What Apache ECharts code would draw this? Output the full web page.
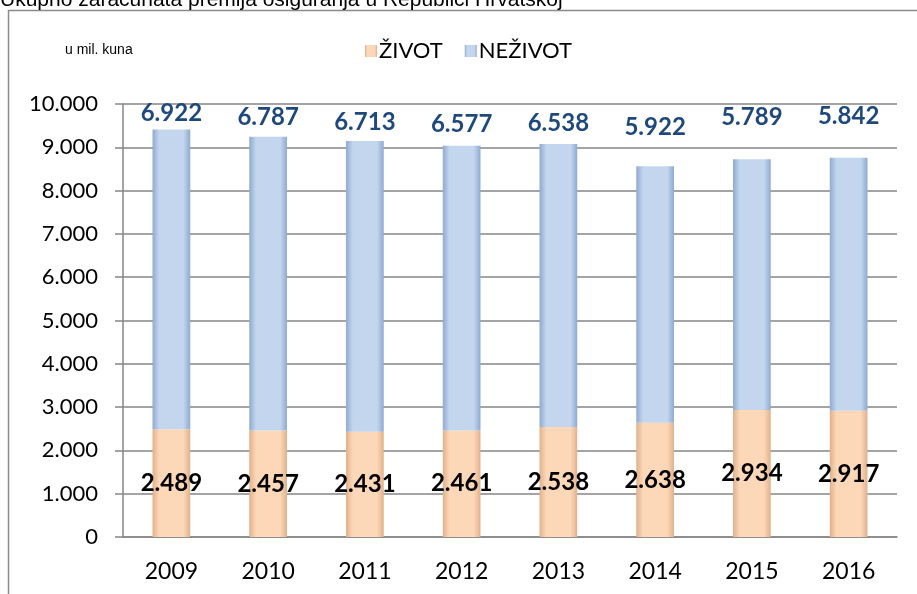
<!DOCTYPE html>
<html>
<head>
<meta charset="utf-8">
<script src="https://cdn.jsdelivr.net/npm/echarts@6/dist/echarts.min.js"></script>
<style>
  html, body { margin: 0; padding: 0; background: #fff; }
  #chart { width: 917px; height: 594px; }
</style>
</head>
<body>
<div id="chart"></div>
<script>
// data
const years = ['2009', '2010', '2011', '2012', '2013', '2014', '2015', '2016'];
const zivot = [2489, 2457, 2431, 2461, 2538, 2638, 2934, 2917];
const nezivot = [6922, 6787, 6713, 6577, 6538, 5922, 5789, 5842];

// label distances above the stacks (hand placed in the original)
const topLabelGap = [4, 7, 7, 9, 9, 27, 30, 29];

const fmt = n => String(n).replace(/\B(?=(\d{3})+(?!\d))/g, '.');

const barGradient = (edge, mid) => ({
    type: 'linear', x: 0, y: 0, x2: 1, y2: 0,
    colorStops: [
        { offset: 0, color: edge },
        { offset: 0.18, color: mid },
        { offset: 0.82, color: mid },
        { offset: 1, color: edge },
    ],
});

const chart = echarts.init(document.getElementById('chart'));
chart.setOption({
    animation: false,
    textStyle: { fontFamily: 'Lato' },
    graphic: [
        {
            type: 'rect',
            shape: { x: 8.5, y: 10.5, width: 1000, height: 700 },
            style: { fill: 'none', stroke: '#8a8a8a', lineWidth: 1.5 },
        },
        {
            type: 'text', left: 0, top: -10,
            style: {
                text: 'Ukupno zaračunata premija osiguranja u Republici Hrvatskoj',
                font: '21px "Liberation Sans", Arial', fill: '#000',
            },
        },
        {
            type: 'text', left: 65, top: 43,
            style: { text: 'u mil. kuna', font: '14px "Liberation Sans", Arial', fill: '#000' },
        },
    ],
    legend: {
        left: 360, top: 35,
        icon: 'rect', itemWidth: 12, itemHeight: 12, itemGap: 22,
        textStyle: { fontSize: 22, fontFamily: 'Lato', color: '#000', padding: [0, 0, 0, -3] },
        data: ['ŽIVOT', 'NEŽIVOT'],
    },
    grid: { left: 123, right: 20, top: 104, bottom: 57 },
    xAxis: {
        type: 'category',
        data: years,
        axisLine: { lineStyle: { color: '#868686', width: 1.5 } },
        axisTick: { length: 8, lineStyle: { color: '#868686', width: 1.5 } },
        axisLabel: { color: '#000', fontSize: 23, margin: 23 },
    },
    yAxis: {
        type: 'value',
        min: 0, max: 10000, interval: 1000,
        axisLine: { show: true, lineStyle: { color: '#868686', width: 1.5 } },
        axisTick: { show: true, length: 8, lineStyle: { color: '#868686', width: 1.5 } },
        splitLine: { lineStyle: { color: '#868686', width: 1.5 } },
        axisLabel: { color: '#000', fontSize: 22, margin: 25, formatter: v => fmt(v) },
    },
    series: [
        {
            name: 'ŽIVOT',
            type: 'bar',
            stack: 'total',
            barWidth: '39%',
            data: zivot,
            itemStyle: { color: barGradient('#e0b18b', '#fcd7b8') },
            label: {
                show: true, position: 'inside',
                fontSize: 24, fontWeight: 'bold', color: '#000',
                formatter: p => fmt(p.value),
            },
        },
        {
            name: 'NEŽIVOT',
            type: 'bar',
            stack: 'total',
            data: nezivot.map((v, i) => ({ value: v, label: { distance: topLabelGap[i] } })),
            itemStyle: { color: barGradient('#8fa9cf', '#c3d6ee') },
            label: {
                show: true, position: 'top',
                fontSize: 24, fontWeight: 'bold', color: '#1f497d',
                formatter: p => fmt(p.value),
            },
        },
    ],
});
</script>
</body>
</html>
